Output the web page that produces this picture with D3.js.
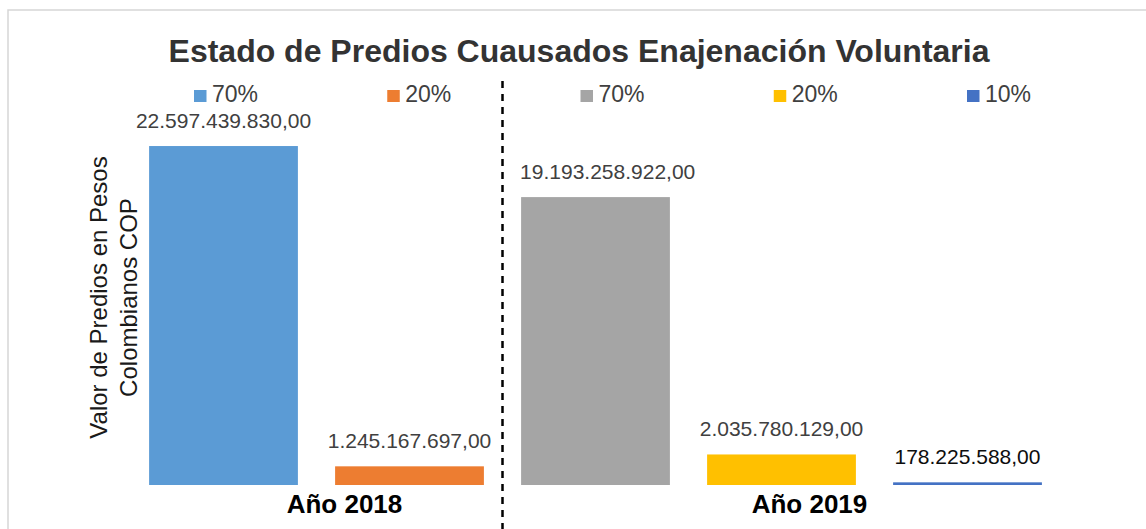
<!DOCTYPE html>
<html>
<head>
<meta charset="utf-8">
<script src="https://cdn.jsdelivr.net/npm/d3@7"></script>
<style>
  body { margin: 0; background: #fff; }
  svg { display: block; font-family: "Liberation Sans", Arial, sans-serif; }
</style>
</head>
<body>
<script>
// Chart data
const years = ["Año 2018", "Año 2019"];
const seriesNames = ["70%", "20%", "70%", "20%", "10%"];
const seriesYear = [0, 0, 1, 1, 1];
const values = [22597439830, 1245167697, 19193258922, 2035780129, 178225588];
const valueLabels = ["22.597.439.830,00", "1.245.167.697,00", "19.193.258.922,00", "2.035.780.129,00", "178.225.588,00"];
const colors = ["#5B9BD5", "#ED7D31", "#A5A5A5", "#FFC000", "#4472C4"];

const width = 1146, height = 529;

const svg = d3.select("body")
    .append("svg")
    .attr("width", width)
    .attr("height", height);

// Outer chart border (only top and left are visible in the frame)
svg.append("rect")
    .attr("x", 8).attr("y", 10)
    .attr("width", width + 20).attr("height", height + 20)
    .attr("fill", "#fff")
    .attr("stroke", "#d6d6d6")
    .attr("stroke-width", 1.5);

// Scales
const idx = d3.range(values.length);
const x = d3.scaleBand()
    .domain(idx)
    .range([130.5, 1060.5])
    .paddingInner(0.2)
    .paddingOuter(0.1);

const y = d3.scaleLinear()
    .domain([0, 25e9])
    .range([485, 110]);

// Title
svg.append("text")
    .attr("x", 579).attr("y", 62)
    .attr("text-anchor", "middle")
    .attr("font-size", 32)
    .attr("font-weight", "bold")
    .attr("fill", "#333")
    .text("Estado de Predios Cuausados Enajenación Voluntaria");

// Legend
const lx = d3.scalePoint().domain(idx).range([194, 967]);
const legend = svg.append("g")
    .selectAll("g")
    .data(idx)
    .join("g")
    .attr("transform", i => `translate(${lx(i)},90)`);
legend.append("rect")
    .attr("width", 12.5).attr("height", 12)
    .attr("fill", i => colors[i]);
legend.append("text")
    .attr("x", 18).attr("y", 12)
    .attr("font-size", 23)
    .attr("fill", "#404040")
    .text(i => seriesNames[i]);

// Separator between years
const sepX = x(2) - x.step() * x.paddingInner() / 2;
svg.append("line")
    .attr("x1", sepX).attr("x2", sepX)
    .attr("y1", 81).attr("y2", height)
    .attr("stroke", "#000")
    .attr("stroke-width", 2.5)
    .attr("stroke-dasharray", "7,6");

// Bars
svg.append("g")
    .selectAll("rect")
    .data(idx)
    .join("rect")
    .attr("x", i => x(i))
    .attr("y", i => y(values[i]))
    .attr("width", x.bandwidth())
    .attr("height", i => y(0) - y(values[i]))
    .attr("fill", i => colors[i]);

// Data labels (the grey one sits aligned to its bar's left edge)
svg.append("g")
    .selectAll("text")
    .data(idx)
    .join("text")
    .attr("x", i => i === 2 ? x(i) - 1 : x(i) + x.bandwidth() / 2)
    .attr("y", i => y(values[i]) - 18)
    .attr("text-anchor", i => i === 2 ? "start" : "middle")
    .attr("font-size", 21)
    .attr("fill", i => i === 4 ? "#0d0d0d" : "#404040")
    .text(i => valueLabels[i]);

// Year labels
svg.append("g")
    .selectAll("text")
    .data(years)
    .join("text")
    .attr("x", (d, k) => {
        const members = idx.filter(i => seriesYear[i] === k);
        const x0 = x(members[0]);
        const x1 = x(members[members.length - 1]) + x.bandwidth();
        return (x0 + x1) / 2 + 28;
    })
    .attr("y", 513)
    .attr("text-anchor", "middle")
    .attr("font-size", 26)
    .attr("font-weight", "bold")
    .attr("fill", "#000")
    .text(d => d);

// Y axis title (two lines)
const yTitle = svg.append("text")
    .attr("transform", `translate(107,${(y.range()[0] + y.range()[1]) / 2}) rotate(-90)`)
    .attr("text-anchor", "middle")
    .attr("font-size", 24)
    .attr("fill", "#1a1a1a");
yTitle.append("tspan").attr("x", 0).attr("dy", 0).text("Valor de Predios en Pesos");
yTitle.append("tspan").attr("x", 0).attr("dy", 30).text("Colombianos COP");
</script>
</body>
</html>
